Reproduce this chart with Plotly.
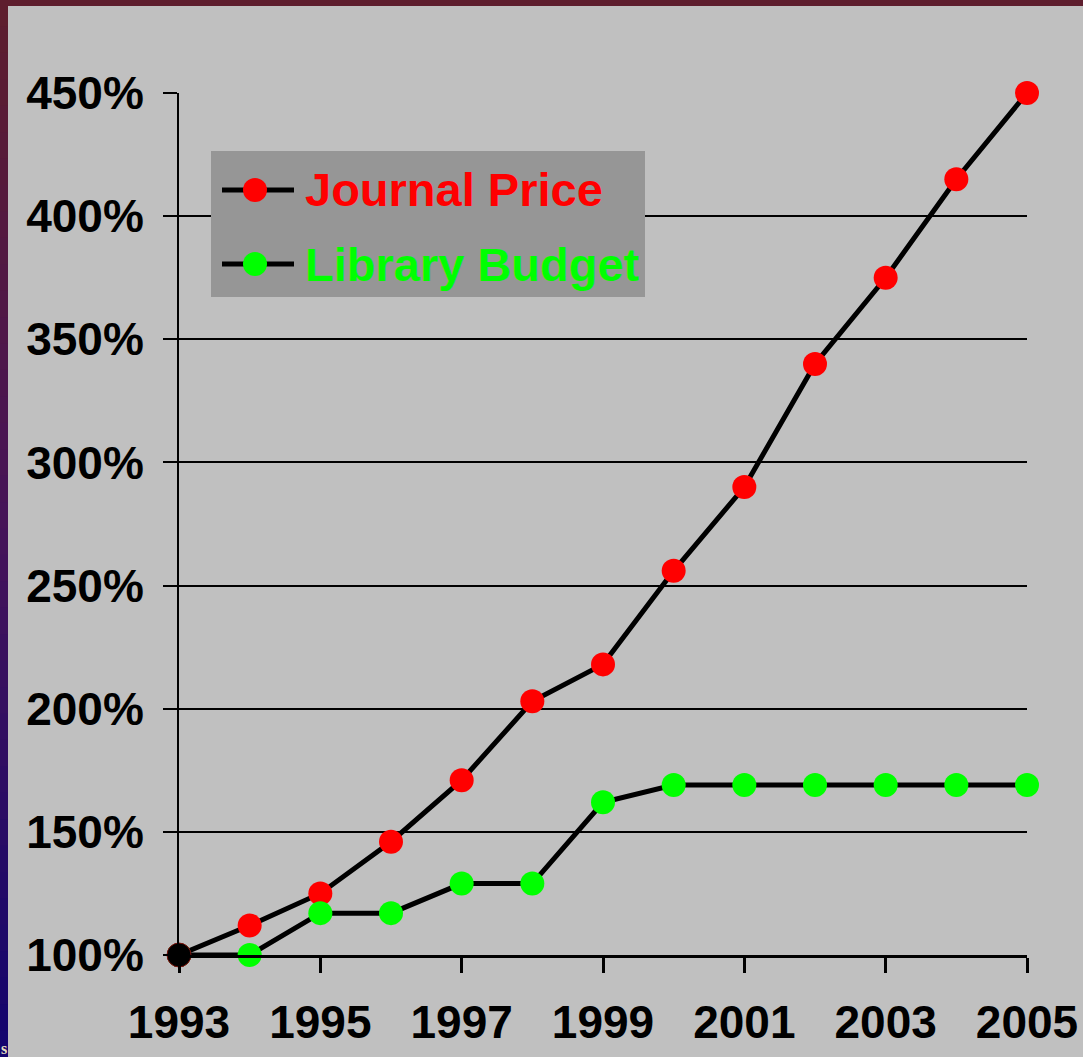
"""Journal price vs library budget, index 1993 = 100%."""

import plotly.graph_objects as go

years = [1993, 1994, 1995, 1996, 1997, 1998, 1999, 2000, 2001, 2002, 2003, 2004, 2005]
journal_price = [100, 112, 125, 146, 171, 203, 218, 256, 290, 340, 375, 415, 450]
library_budget = [100, 100, 117, 117, 129, 129, 162, 169, 169, 169, 169, 169, 169]
y_ticks = [100, 150, 200, 250, 300, 350, 400, 450]
x_ticks = [1993, 1995, 1997, 1999, 2001, 2003, 2005]

W, H = 1083, 1057
L, R, T, B = 179, 1027, 93, 955
BG = "#C0C0C0"
FONT = "Liberation Sans, Arial, sans-serif"


def px(x):
    return (x - L) / (R - L)


def py(y):
    return (B - y) / (B - T)


fig = go.Figure()

fig.add_trace(
    go.Scatter(
        x=years,
        y=journal_price,
        mode="lines+markers",
        name="Journal Price",
        line=dict(color="black", width=5),
        marker=dict(size=24, color="#FF0000"),
        cliponaxis=False,
    )
)

fig.add_trace(
    go.Scatter(
        x=years,
        y=library_budget,
        mode="lines+markers",
        name="Library Budget",
        line=dict(color="black", width=5),
        marker=dict(size=24, color="#00FF00"),
        cliponaxis=False,
    )
)

# start point drawn black where both series meet
fig.add_trace(
    go.Scatter(
        x=years[:1],
        y=journal_price[:1],
        mode="markers",
        marker=dict(size=24, color="black", line=dict(color="#7a1010", width=1)),
        cliponaxis=False,
        showlegend=False,
    )
)

shapes = []

# slide frame: gradient strip on the left, maroon strip on top
top_rgb = (94, 30, 46)
mid_rgb = (70, 20, 90)
bot_rgb = (20, 5, 110)
n_bands = 40
for i in range(n_bands):
    t = i / (n_bands - 1)
    if t < 0.5:
        a, b, f = top_rgb, mid_rgb, t / 0.5
    else:
        a, b, f = mid_rgb, bot_rgb, (t - 0.5) / 0.5
    c = tuple(int(a[k] + (b[k] - a[k]) * f) for k in range(3))
    y0 = H * i / n_bands
    y1 = H * (i + 1) / n_bands + 1
    shapes.append(
        dict(
            type="rect", xref="paper", yref="paper",
            x0=px(0), x1=px(8), y0=py(y1), y1=py(y0),
            fillcolor="rgb(%d,%d,%d)" % c, line=dict(width=0), layer="above",
        )
    )
shapes.append(
    dict(
        type="rect", xref="paper", yref="paper",
        x0=px(0), x1=px(W), y0=py(6), y1=py(0),
        fillcolor="rgb(94,30,46)", line=dict(width=0), layer="above",
    )
)

# legend box
shapes.append(
    dict(
        type="rect", xref="paper", yref="paper",
        x0=px(211), x1=px(645), y0=py(297), y1=py(151),
        fillcolor="#969696", line=dict(width=0), layer="above",
    )
)
legend_items = [("Journal Price", "#FF0000", 190), ("Library Budget", "#00FF00", 264)]
for label, color, yc in legend_items:
    shapes.append(
        dict(
            type="line", xref="paper", yref="paper",
            x0=px(222), x1=px(294), y0=py(yc), y1=py(yc),
            line=dict(color="black", width=5), layer="above",
        )
    )
    shapes.append(
        dict(
            type="circle", xref="paper", yref="paper",
            xsizemode="pixel", ysizemode="pixel",
            xanchor=px(255), yanchor=py(yc),
            x0=-12, x1=12, y0=-12, y1=12,
            fillcolor=color, line=dict(width=0), layer="above",
        )
    )
    fig.add_annotation(
        xref="paper", yref="paper", x=px(303), y=py(yc),
        xanchor="left", yanchor="middle", text=label, showarrow=False,
        font=dict(family=FONT, size=47, color=color, weight="bold"),
    )

# clipped slide text at the bottom-left corner
fig.add_annotation(
    xref="paper", yref="paper", x=px(-1), y=py(1048),
    xanchor="left", yanchor="middle", text="s", showarrow=False,
    font=dict(family="Liberation Serif, serif", size=16, color="#e8e0c0"),
)

fig.update_layout(
    width=W,
    height=H,
    paper_bgcolor=BG,
    plot_bgcolor=BG,
    showlegend=False,
    shapes=shapes,
    margin=dict(l=L, r=W - R, t=T, b=H - B, pad=0, autoexpand=False),
    font=dict(family=FONT, size=46, color="black", weight="bold"),
    xaxis=dict(
        range=[1993, 2005],
        tickvals=x_ticks,
        ticktext=[str(v) for v in x_ticks],
        ticks="outside",
        ticklen=15,
        tickwidth=2.5,
        tickcolor="black",
        ticklabelstandoff=10,
        showgrid=False,
        zeroline=False,
        showline=True,
        linecolor="black",
        linewidth=2.5,
        tickfont=dict(family=FONT, size=46, color="black", weight="bold"),
    ),
    yaxis=dict(
        range=[100, 450],
        tickvals=y_ticks,
        ticktext=["%d%%" % v for v in y_ticks],
        ticks="outside",
        ticklen=14,
        tickwidth=2,
        tickcolor="black",
        ticklabelstandoff=10,
        showgrid=True,
        gridcolor="black",
        gridwidth=2,
        zeroline=False,
        showline=True,
        linecolor="black",
        linewidth=2,
        tickfont=dict(family=FONT, size=46, color="black", weight="bold"),
    ),
)

# drop the page's default body margin so the figure fills the window exactly
fig.write_html(
    "out.html",
    config={"displayModeBar": False},
    post_script="document.body.style.margin='0';",
)
